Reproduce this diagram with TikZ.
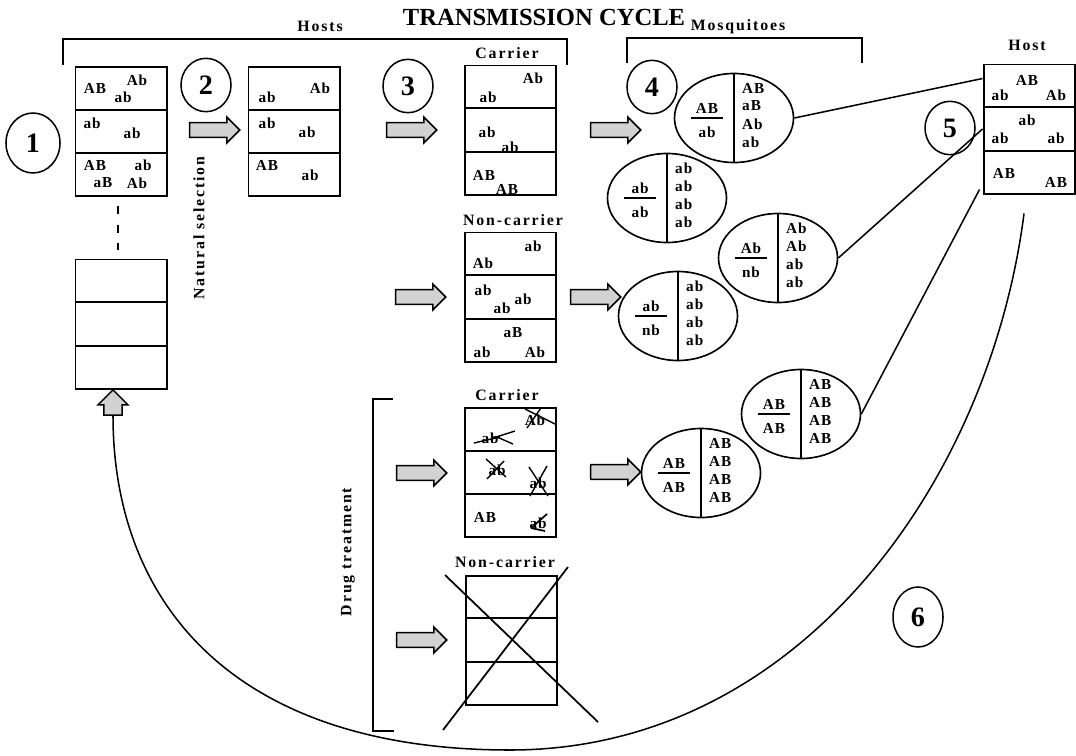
\documentclass[tikz,border=0pt]{standalone}
\usepackage{fontspec}
\setmainfont{Liberation Serif}
\newfontfamily\spacedfont{Liberation Serif}[LetterSpace=12]
\newfontfamily\genofont{Liberation Serif}[LetterSpace=6]
\usetikzlibrary{calc,shapes.geometric,shapes.arrows}

\tikzset{
  cellbox/.style={draw, line width=1.7pt, minimum width=2.73cm, minimum height=3.87cm},
  stepnum/.style={draw, line width=1.3pt, ellipse, minimum width=1.5cm, minimum height=1.6cm, font=\fontsize{24}{24}\selectfont\bfseries},
  mosq/.style={draw, line width=1.4pt, ellipse, minimum width=3.57cm, minimum height=2.67cm},
  pusharrow/.style={single arrow, draw, line width=1.3pt, fill=gray!35, minimum height=1.5cm, minimum width=0.75cm, inner sep=0.2cm, single arrow head extend=0.16cm},
  gt/.style={font=\fontsize{13}{13}\selectfont\genofont\bfseries},
  lbl/.style={font=\fontsize{13.5}{15}\selectfont\spacedfont\bfseries},
}

\newcommand{\cellstack}[3]{%
  \node[cellbox] (#1) at (#2,#3) {};
  \foreach \f in {1/3,2/3}
    \draw[line width=1.7pt] ($(#1.north west)!\f!(#1.south west)$) -- ($(#1.north east)!\f!(#1.south east)$);
}

\newcommand{\mosquito}[6]{%
  \node[mosq] (#1) at (#2,#3) {};
  \draw[line width=1.4pt] (#1.north) -- (#1.south);
  \node[gt] (#1-up) at ($(#1.center)+(-27,10)$) {#4};
  \draw[line width=1.8pt] ($(#1.center)+(-43,0)$) -- ($(#1.center)+(-11,0)$);
  \node[gt] (#1-lo) at ($(#1.center)+(-27,-14)$) {#5};
  \foreach \g [count=\i] in {#6}
    \node[gt, anchor=west] (#1-\i) at ($(#1.center)+(8,{48-18*\i})$) {\g};
}

\begin{document}
\begin{tikzpicture}[x=0.03cm,y=0.03cm]
\tikzstyle{every node}+=[inner sep=0pt]
\useasboundingbox (0,0) rectangle (1076,-755);

\node[font=\fontsize{21}{24}\selectfont\bfseries] (title) at (544,-17) {TRANSMISSION CYCLE};
\node[lbl] (hosts) at (320,-26) {Hosts};
\node[lbl] (mosquitoes) at (738,-27) {Mosquitoes};
\node[lbl] (hostlbl) at (1027,-45) {Host};
\draw[line width=1.4pt] (63,-65) -- (63,-39) -- (567,-39) -- (567,-65);
\draw[line width=1.4pt] (627,-63) -- (627,-38) -- (862,-38) -- (862,-63);

\node[stepnum, minimum width=1.62cm, minimum height=1.8cm] (one) at (33,-143) {1};
\node[stepnum] (two) at (206,-85) {2};
\node[stepnum] (three) at (408,-86) {3};
\node[stepnum] (four) at (652,-87) {4};
\node[stepnum] (five) at (950,-128) {5};
\node[stepnum, minimum height=1.8cm] (six) at (918,-617) {6};

\cellstack{pop}{121}{-131.5}
\cellstack{popnext}{121}{-324}
\cellstack{sel}{294}{-131.5}
\cellstack{car}{510}{-130}
\cellstack{noncar}{510}{-297}
\cellstack{drugcar}{510}{-472.5}
\cellstack{drugnon}{511}{-640}
\cellstack{host}{1029}{-129}

\draw[line width=1.3pt, dash pattern=on 7pt off 9pt] ($(pop.south)+(-3,-9)$) -- ($(popnext.north)+(-3,9)$);

\foreach \x/\y/\g [count=\k] in {95/88/AB, 137/80/Ab, 123/97/ab, 92/123/ab, 132/133/ab,
    95/165/AB, 143/165/ab, 103/183/aB, 137/183/Ab}
  \node[gt] (pop-\k) at (\x,-\y) {\g};
\foreach \x/\y/\g [count=\k] in {267/97/ab, 320/88/Ab, 267/123/ab, 307/132/ab, 267/165/AB, 310/175/ab}
  \node[gt] (sel-\k) at (\x,-\y) {\g};
\foreach \x/\y/\g [count=\k] in {533/78/Ab, 488/97/ab, 487/132/ab, 510/147/ab, 484/175/AB, 507/189/AB}
  \node[gt] (car-\k) at (\x,-\y) {\g};
\foreach \x/\y/\g [count=\k] in {533/246/ab, 483/263/Ab, 483/290/ab, 502/308/ab, 523/299/ab,
    513/333/aB, 482/352/ab, 535/352/Ab}
  \node[gt] (noncar-\k) at (\x,-\y) {\g};
\foreach \x/\y/\g [count=\k] in {535/420/Ab, 490/438/ab, 497/470/ab, 538/483/ab, 485/517/AB, 538/523/ab}
  \node[gt] (drugcar-\k) at (\x,-\y) {\g};
\foreach \x/\y/\g [count=\k] in {1027/80/AB, 1000/95/ab, 1056/95/Ab, 1027/120/ab, 1000/138/ab,
    1056/138/ab, 1004/173/AB, 1056/182/AB}
  \node[gt] (host-\k) at (\x,-\y) {\g};

\draw[line width=1.2pt] (525,-409) -- (555,-424);
\draw[line width=1.2pt] (527,-428) -- (541,-408);
\draw[line width=1.2pt] (474,-443) -- (500,-437);
\draw[line width=1.2pt] (493,-438) -- (515,-431);
\draw[line width=1.2pt] (497,-437) -- (513,-444);
\draw[line width=1.2pt] (486,-459) -- (506,-477);
\draw[line width=1.2pt] (487,-479) -- (504,-461);
\draw[line width=1.2pt] (529,-467) -- (548,-496);
\draw[line width=1.2pt] (530,-496) -- (547,-466);
\draw[line width=1.5pt] (531,-528) -- (547,-514);
\draw[line width=1.5pt] (531,-528) -- (545,-531);

\draw[line width=1.5pt] (445,-575) -- (598,-722);
\draw[line width=1.5pt] (568,-567) -- (443,-730);

\node[lbl] (carlbl) at (507,-53) {Carrier};
\node[lbl] (noncarlbl) at (513,-220) {Non-carrier};
\node[lbl] (drugcarlbl) at (507,-395) {Carrier};
\node[lbl] (drugnonlbl) at (505,-562) {Non-carrier};
\node[lbl, rotate=90] (natsel) at (199,-228) {Natural selection};
\node[lbl, rotate=90] (drugtr) at (348,-552) {Drug treatment};
\draw[line width=1.4pt] (393,-399) -- (373,-399) -- (373,-731) -- (394,-731);

\node[pusharrow] (ar2) at (211,-130) {};
\node[pusharrow] (ar3) at (408,-130) {};
\node[pusharrow] (ar4) at (612,-130) {};
\node[pusharrow] (arnc) at (417,-297) {};
\node[pusharrow] (arnc2) at (592,-297) {};
\node[pusharrow] (ardrug) at (418,-473) {};
\node[pusharrow] (ardrug2) at (612,-472) {};
\node[pusharrow] (ardrugnc) at (418,-640) {};
\node[pusharrow, rotate=90, minimum height=0.6cm, minimum width=0.9cm, inner sep=0.22cm] (backar) at (113,-407) {};

\mosquito{mAB}{734}{-118}{AB}{ab}{AB,aB,Ab,ab}
\mosquito{mab}{667}{-198}{ab}{ab}{ab,ab,ab,ab}
\mosquito{mAb}{778}{-258}{Ab}{nb}{Ab,Ab,ab,ab}
\mosquito{mnc}{678}{-316}{ab}{nb}{ab,ab,ab,ab}
\mosquito{mdrugb}{801}{-414}{AB}{AB}{AB,AB,AB,AB}
\mosquito{mdrug}{701}{-473}{AB}{AB}{AB,AB,AB,AB}

\draw[line width=1.3pt] (mAB.east) -- ($(host.north west)+(0,-15)$);
\draw[line width=1.3pt] (mAb.east) -- (host.west);
\draw[line width=1.3pt] (mdrugb.east) -- ($(host.south west)+(-3,5)$);
\draw[line width=1.3pt] ($(host.south)+(-5,-19)$) .. controls (990,-480) and (800,-750) .. (510,-750)
  .. controls (230,-750) and (113,-600) .. (backar.tail);
\end{tikzpicture}
\end{document}
